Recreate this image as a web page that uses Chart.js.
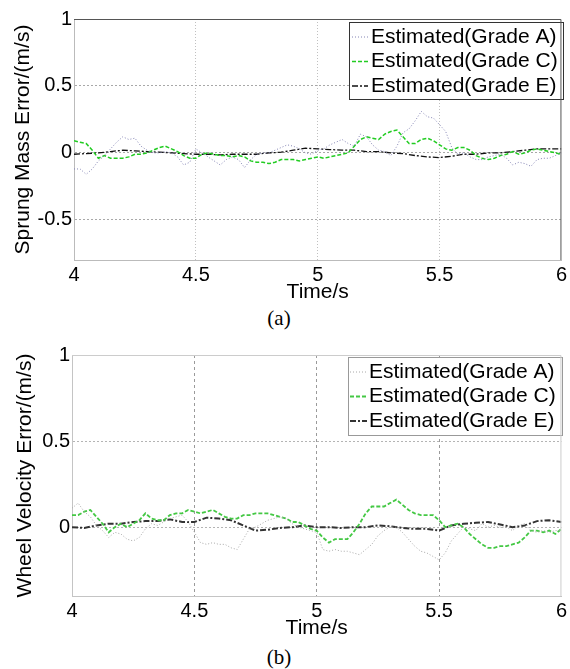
<!DOCTYPE html>
<html lang="en">
<head>
<meta charset="UTF-8">
<title>Sprung mass and wheel velocity error</title>
<script src="https://cdn.jsdelivr.net/npm/chart.js"></script>
<style>
  body { margin: 0; padding: 0; background: #fff; }
  .wrap { position: relative; width: 570px; height: 669px; }
  .panel { position: absolute; left: 0; width: 570px; height: 305px; }
  .cap { position: absolute; left: 229px; width: 100px; text-align: center; line-height: 24px;
         font-family: "Liberation Serif", "Times New Roman", serif; font-size: 21px; color: #000; }
</style>
</head>
<body>
<div class="wrap">
  <div class="panel" style="top:0"><canvas id="chartA"></canvas></div>
  <div class="cap" style="top:306px">(a)</div>
  <div class="panel" style="top:336px"><canvas id="chartB"></canvas></div>
  <div class="cap" style="top:645px">(b)</div>
</div>

<script>
// time axis (s)
const timeFine = [
  4.000, 4.025, 4.050, 4.075, 4.100, 4.125, 4.150, 4.175, 4.200, 4.225,
  4.250, 4.275, 4.300, 4.325, 4.350, 4.375, 4.400, 4.425, 4.450, 4.475,
  4.500, 4.525, 4.550, 4.575, 4.600, 4.625, 4.650, 4.675, 4.700, 4.725,
  4.750, 4.775, 4.800, 4.825, 4.850, 4.875, 4.900, 4.925, 4.950, 4.975,
  5.000, 5.025, 5.050, 5.075, 5.100, 5.125, 5.150, 5.175, 5.200, 5.225,
  5.250, 5.275, 5.300, 5.325, 5.350, 5.375, 5.400, 5.425, 5.450, 5.475,
  5.500, 5.525, 5.550, 5.575, 5.600, 5.625, 5.650, 5.675, 5.700, 5.725,
  5.750, 5.775, 5.800, 5.825, 5.850, 5.875, 5.900, 5.925, 5.950, 5.975, 6.000
];
const timeCoarse = [
  4.00, 4.05, 4.10, 4.15, 4.20, 4.25, 4.30, 4.35, 4.40, 4.45,
  4.50, 4.55, 4.60, 4.65, 4.70, 4.75, 4.80, 4.85, 4.90, 4.95,
  5.00, 5.05, 5.10, 5.15, 5.20, 5.25, 5.30, 5.35, 5.40, 5.45,
  5.50, 5.55, 5.60, 5.65, 5.70, 5.75, 5.80, 5.85, 5.90, 5.95, 6.00
];

const seriesLabels = ['Estimated(Grade A)', 'Estimated(Grade C)', 'Estimated(Grade E)'];
const xTicks = [4, 4.5, 5, 5.5, 6];
const yTicksA = [-0.5, 0, 0.5, 1];
const yTicksB = [0, 0.5, 1];

// (a) sprung mass velocity error
const sprungA = [
  -0.12, -0.12, -0.16, -0.12, -0.06, -0.02, 0.03, 0.08, 0.12, 0.10,
  0.11, 0.05, 0.02, 0.00, 0.00, 0.01, 0.00, -0.03, -0.09, -0.07,
  0.03, 0.00, -0.03, -0.06, -0.09, -0.05, -0.03, -0.05, -0.11, -0.05,
  -0.01, 0.00, 0.00, 0.02, 0.04, 0.06, 0.05, 0.03, 0.00, -0.01,
  0.02, 0.03, 0.06, 0.08, 0.10, 0.07, 0.05, 0.14, 0.12, 0.06,
  0.02, 0.01, -0.02, 0.05, 0.15, 0.18, 0.24, 0.31, 0.27, 0.26,
  0.21, 0.16, 0.04, -0.01, 0.00, -0.03, -0.05, -0.05, -0.03, -0.02,
  -0.01, -0.04, -0.09, -0.07, -0.08, -0.10, -0.05, -0.04, -0.04, -0.02, 0.00
];
const sprungC = [
  0.09, 0.08, 0.07, 0.02, -0.04, -0.02, -0.04, -0.04, -0.04, -0.03,
  -0.01, -0.01, 0.00, 0.02, 0.04, 0.05, 0.03, 0.01, -0.02, -0.04,
  -0.04, -0.01, 0.00, -0.01, -0.02, -0.02, -0.03, -0.02, -0.03, -0.06,
  -0.07, -0.07, -0.08, -0.07, -0.05, -0.05, -0.05, -0.06, -0.05, -0.04,
  -0.03, -0.04, -0.03, -0.02, -0.01, 0.00, 0.05, 0.10, 0.12, 0.11,
  0.10, 0.14, 0.16, 0.17, 0.12, 0.07, 0.07, 0.10, 0.11, 0.09,
  0.06, 0.03, 0.02, 0.04, 0.04, 0.02, -0.02, -0.04, -0.05, -0.04,
  -0.02, -0.01, 0.01, -0.01, 0.00, 0.02, 0.03, 0.02, 0.01, 0.00, -0.01
];
const sprungE = [
  -0.01, -0.005, 0.00, 0.01, 0.02, 0.015, 0.01, 0.005, 0.00, -0.005,
  -0.01, -0.01, -0.015, -0.01, -0.01, -0.01, 0.00, 0.005, 0.02, 0.035,
  0.03, 0.025, 0.02, 0.02, 0.01, 0.01, 0.00, -0.005, -0.02, -0.03,
  -0.035, -0.025, -0.01, -0.01, 0.00, 0.00, 0.01, 0.02, 0.03, 0.03, 0.03
];

// (b) wheel velocity error
const wheelA = [
  0.11, 0.14, 0.09, 0.06, 0.01, -0.02, -0.06, -0.03, -0.04, -0.07,
  -0.08, -0.06, -0.01, 0.02, 0.01, 0.03, 0.05, 0.06, 0.07, 0.03,
  -0.03, -0.09, -0.10, -0.09, -0.10, -0.10, -0.12, -0.13, -0.07, -0.01,
  0.00, 0.02, 0.04, 0.05, 0.06, 0.05, 0.02, 0.00, -0.01, -0.02,
  -0.03, -0.13, -0.14, -0.13, -0.14, -0.14, -0.15, -0.16, -0.13, -0.10,
  -0.05, -0.02, 0.00, 0.00, -0.03, -0.07, -0.11, -0.14, -0.15, -0.17,
  -0.19, -0.15, -0.08, -0.04, 0.00, -0.01, -0.02, 0.02, 0.00, 0.01,
  0.00, 0.00, -0.02, 0.01, 0.02, -0.02, -0.03, -0.02, -0.03, -0.02, -0.02
];
const wheelC = [
  0.07, 0.07, 0.09, 0.10, 0.06, 0.02, -0.03, 0.00, 0.02, 0.00,
  0.02, 0.04, 0.08, 0.05, 0.04, 0.04, 0.07, 0.08, 0.08, 0.10,
  0.09, 0.08, 0.09, 0.10, 0.08, 0.06, 0.05, 0.05, 0.07, 0.07,
  0.08, 0.08, 0.08, 0.07, 0.06, 0.05, 0.03, 0.03, 0.01, -0.01,
  -0.02, -0.06, -0.09, -0.07, -0.07, -0.07, -0.03, 0.02, 0.08, 0.12,
  0.12, 0.12, 0.14, 0.16, 0.13, 0.10, 0.08, 0.07, 0.07, 0.07,
  0.04, 0.00, 0.01, 0.02, 0.00, -0.04, -0.07, -0.10, -0.12, -0.12,
  -0.11, -0.11, -0.10, -0.09, -0.06, -0.02, -0.02, -0.03, -0.02, -0.04, -0.01
];
const wheelE = [
  0.00, -0.005, 0.01, 0.02, 0.02, 0.03, 0.035, 0.035, 0.045, 0.03,
  0.03, 0.055, 0.05, 0.04, 0.01, -0.02, -0.015, -0.005, 0.00, 0.01,
  0.00, 0.00, -0.005, 0.00, 0.00, 0.01, 0.005, -0.005, -0.01, -0.01,
  -0.02, 0.01, 0.02, 0.025, 0.03, 0.015, 0.00, 0.01, 0.035, 0.04, 0.03
];

Chart.defaults.font.family = '"Liberation Sans", Arial, sans-serif';
Chart.defaults.font.size = 20;
Chart.defaults.color = '#000';

function pairs(xs, ys) {
  return ys.map((y, i) => ({ x: xs[i], y: y }));
}

// legend box drawn inside the plot area, like the MATLAB one
const boxLegend = {
  id: 'boxLegend',
  afterDatasetsDraw(chart, args, o) {
    const ctx = chart.ctx;
    ctx.save();
    ctx.fillStyle = '#fff';
    ctx.fillRect(o.x, o.y, o.w, o.h);
    ctx.strokeStyle = o.border;
    ctx.lineWidth = 1;
    ctx.strokeRect(o.x + 0.5, o.y + 0.5, o.w, o.h);
    chart.data.datasets.forEach((ds, i) => {
      const cy = o.y + o.rowTop + i * o.rowGap;
      ctx.strokeStyle = ds.borderColor;
      ctx.lineWidth = ds.borderWidth;
      ctx.setLineDash(ds.borderDash || []);
      ctx.beginPath();
      ctx.moveTo(o.x + o.lineFrom, cy);
      ctx.lineTo(o.x + o.lineTo, cy);
      ctx.stroke();
      ctx.setLineDash([]);
      ctx.fillStyle = '#000';
      ctx.font = '21px "Liberation Sans", Arial, sans-serif';
      ctx.textBaseline = 'middle';
      ctx.fillText(ds.label, o.x + o.textAt, cy);
    });
    ctx.restore();
  }
};

// top and right edges of the axes box
const frame = {
  id: 'frame',
  afterDraw(chart, args, o) {
    const a = chart.chartArea;
    const ctx = chart.ctx;
    ctx.save();
    ctx.strokeStyle = o.color;
    ctx.lineWidth = 1;
    ctx.beginPath();
    ctx.moveTo(a.left, a.top + 0.5);
    ctx.lineTo(a.right - 0.5, a.top + 0.5);
    ctx.lineTo(a.right - 0.5, a.bottom);
    ctx.stroke();
    ctx.restore();
  }
};

function makePanel(id, cfg) {
  const edge = v => v === 4 || v === 6 || v === 1;
  new Chart(document.getElementById(id), {
    type: 'line',
    data: { datasets: cfg.datasets },
    options: {
      responsive: true,
      maintainAspectRatio: false,
      animation: false,
      layout: { padding: { top: 19, right: cfg.padRight, left: 0, bottom: 0 } },
      elements: { point: { radius: 0 }, line: { tension: 0 } },
      plugins: {
        legend: { display: false },
        tooltip: { enabled: false },
        boxLegend: cfg.legend,
        frame: { color: cfg.frameColor }
      },
      scales: {
        x: {
          type: 'linear',
          min: 4,
          max: 6,
          afterBuildTicks: s => { s.ticks = xTicks.map(v => ({ value: v })); },
          afterFit: s => { s.height = 45; },
          ticks: { padding: 3, callback: v => String(v), maxRotation: 0 },
          grid: {
            drawTicks: false,
            color: c => (c.tick && edge(c.tick.value)) ? 'rgba(0,0,0,0)' : cfg.xGridColor,
            lineWidth: 1
          },
          border: { color: cfg.axisColor, dash: cfg.xGridDash },
          title: { display: true, text: 'Time/s', font: { size: 21 }, padding: 0 }
        },
        y: {
          min: cfg.yMin,
          max: 1,
          afterBuildTicks: s => { s.ticks = cfg.yTicks.map(v => ({ value: v })); },
          afterFit: s => { s.width = cfg.yWidth; },
          ticks: { padding: 2, callback: v => String(v) },
          grid: {
            drawTicks: false,
            color: c => (c.tick && edge(c.tick.value)) ? 'rgba(0,0,0,0)' : cfg.yGridColor,
            lineWidth: 1
          },
          border: { color: cfg.axisColor, dash: [2, 2] },
          title: { display: true, text: cfg.yTitle, font: { size: 21 }, padding: { top: cfg.yTitlePad, bottom: 0 } }
        }
      }
    },
    plugins: [boxLegend, frame]
  });
}

makePanel('chartA', {
  yTitle: 'Sprung Mass Error/(m/s)',
  yMin: -0.8,
  yTicks: yTicksA,
  yWidth: 74,
  yTitlePad: 11,
  padRight: 6,
  axisColor: '#bbbbbb',
  frameColor: '#555555',
  xGridColor: '#c0c0c0',
  xGridDash: [1, 2],
  yGridColor: '#a8a8a8',
  legend: { x: 349, y: 22, w: 214, h: 77, rowTop: 15, rowGap: 24.5, lineFrom: 3, lineTo: 19, textAt: 22, border: '#333' },
  datasets: [
    { label: seriesLabels[0], data: pairs(timeFine, sprungA), borderColor: '#8484b4', borderWidth: 1, borderDash: [1, 2] },
    { label: seriesLabels[1], data: pairs(timeFine, sprungC), borderColor: '#22cc22', borderWidth: 1.5, borderDash: [4, 2] },
    { label: seriesLabels[2], data: pairs(timeCoarse, sprungE), borderColor: '#111111', borderWidth: 1.3, borderDash: [6, 2, 2, 2] }
  ]
});

makePanel('chartB', {
  yTitle: 'Wheel Velocity Error/(m/s)',
  yMin: -0.4,
  yTicks: yTicksB,
  yWidth: 72,
  yTitlePad: 13,
  padRight: 7,
  axisColor: '#c4c4c4',
  frameColor: '#cccccc',
  xGridColor: '#9a9a9a',
  xGridDash: [3, 3],
  yGridColor: '#b4b4b4',
  legend: { x: 348, y: 21, w: 214, h: 78, rowTop: 15, rowGap: 24.5, lineFrom: 2, lineTo: 19, textAt: 21, border: '#999' },
  datasets: [
    { label: seriesLabels[0], data: pairs(timeFine, wheelA), borderColor: '#a8a8a8', borderWidth: 1, borderDash: [1, 2] },
    { label: seriesLabels[1], data: pairs(timeFine, wheelC), borderColor: '#44c844', borderWidth: 1.8, borderDash: [4, 2] },
    { label: seriesLabels[2], data: pairs(timeCoarse, wheelE), borderColor: '#333333', borderWidth: 2, borderDash: [6, 2, 2, 2] }
  ]
});
</script>
</body>
</html>
